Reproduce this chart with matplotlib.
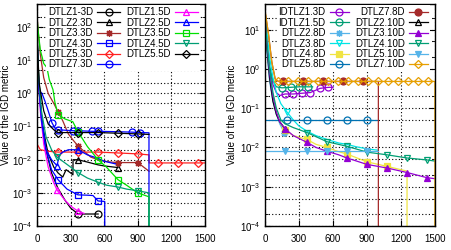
import matplotlib
matplotlib.use('Agg')
import matplotlib.pyplot as plt
from matplotlib.lines import Line2D
from matplotlib.ticker import LogLocator, NullFormatter, MultipleLocator

plt.rcParams['font.family'] = ['Liberation Sans', 'DejaVu Sans']
plt.rcParams['font.size'] = 7

# ---- left panel data (generation, IGD) ----
d13_x = [0, 15, 40, 80, 130, 186, 250, 300, 366, 450, 546]
d13_y = [60, 3, 0.2, 0.02, 4e-3, 1.4e-3, 6e-4, 3.5e-4, 2.3e-4, 2.3e-4, 2.3e-4]
d13_m = [366, 546]

d23_x = [0, 20, 50, 100, 150, 188, 230, 260, 300, 321, 322, 366, 450, 545, 600, 723]
d23_y = [80, 1, 0.1, 0.015, 6e-3, 4e-3, 3e-3, 5e-3, 4e-3, 3.5e-3, 0.01, 0.01, 8.5e-3, 7e-3, 6.5e-3, 5.8e-3]
d23_m = [366, 723]

d33_x = [0, 10, 30, 60, 100, 150, 188, 230, 280, 320, 366, 420, 480, 545, 600, 660, 723, 800, 900, 1000]
d33_y = [250, 80, 15, 3, 1, 0.5, 0.28, 0.15, 0.06, 0.04, 0.026, 0.018, 0.012, 0.01, 0.009, 0.0085,
         0.0082, 0.0082, 0.0082, 0.0045]
d33_m = [188, 366, 723, 900]

d43_x = [0, 15, 40, 80, 130, 188, 268, 366, 450, 500, 545, 605, 606]
d43_y = [60, 2, 0.2, 0.02, 5e-3, 2.5e-3, 1.3e-3, 8.7e-4, 8.5e-4, 8.3e-4, 5.7e-4, 5.5e-4, 0]
d43_m = [188, 366, 545]

d53_x = [0, 30, 100, 188, 366, 545, 723, 900, 1000, 1001, 1080, 1260, 1440, 1500]
d53_y = [0.03, 0.02, 0.018, 0.017, 0.017, 0.017, 0.016, 0.015, 0.014, 0.008, 0.008, 0.008, 0.008, 0.008]
d53_m = [188, 366, 545, 723, 900, 1080, 1260, 1440]

d73_x = [0, 20, 45, 70, 100, 134, 160, 188, 321, 366, 491, 545, 723, 848, 920, 1000, 1001]
d73_y = [3, 1.2, 1.0, 0.6, 0.3, 0.13, 0.09, 0.08, 0.075, 0.075, 0.072, 0.072, 0.07, 0.068, 0.066, 0.065, 0]
d73_m = [134, 188, 321, 366, 491, 545, 848, 920]

d15_x = [0, 10, 30, 60, 100, 150, 180, 250, 300, 366, 420]
d15_y = [100, 5, 0.3, 0.03, 6e-3, 2e-3, 1.2e-3, 6e-4, 4e-4, 2.8e-4, 2.4e-4]
d15_m = [180, 366]

d25_x = [0, 15, 40, 80, 130, 179, 200, 230, 280, 366, 450, 545, 600, 700]
d25_y = [50, 2, 0.15, 0.02, 0.01, 6.6e-3, 0.014, 0.017, 0.02, 0.02, 0.014, 0.011, 0.009, 0.0075]
d25_m = [179, 366]

d35_x = [0, 10, 30, 45, 60, 89, 110, 143, 160, 188, 250, 320, 366, 450, 545, 620, 723, 800, 900, 1000, 1001]
d35_y = [200, 80, 20, 13, 8, 6, 2.6, 1.3, 0.54, 0.23, 0.17, 0.14, 0.07, 0.025, 0.01, 0.006, 0.0025,
         0.0017, 0.001, 0.00076, 0]
d35_m = [188, 366, 545, 723, 900]

d45_x = [0, 1, 15, 40, 80, 130, 179, 250, 300, 366, 450, 545, 623, 723, 800, 900, 1000, 1001]
d45_y = [0, 100, 3, 0.3, 0.05, 0.02, 0.012, 0.008, 0.006, 0.0041, 0.0028, 0.0021, 0.0017, 0.0015,
         0.0013, 0.00115, 0.001, 0]
d45_m = [179, 366, 545, 723, 900]

d55_x = [0, 20, 60, 100, 150, 188, 366, 545, 723, 900, 1000]
d55_y = [50, 2, 0.3, 0.12, 0.08, 0.066, 0.066, 0.066, 0.063, 0.06, 0.058]
d55_m = [188, 366, 545, 723, 900]

# ---- right panel data ----
i13_x = [0, 15, 40, 70, 100, 130, 176, 250, 325, 400, 485, 560, 600]
i13_y = [30, 5, 1, 0.4, 0.25, 0.21, 0.23, 0.23, 0.24, 0.25, 0.32, 0.34, 0.34]
i13_m = [176, 250, 325, 400, 485, 560]

i15_x = [0, 15, 40, 70, 100, 150, 225, 300, 375, 420]
i15_y = [30, 5, 1.2, 0.5, 0.35, 0.33, 0.34, 0.35, 0.35, 0.35]
i15_m = [150, 225, 300, 375]

d28_x = [0, 15, 40, 70, 100, 130, 170, 200]
d28_y = [30, 3, 0.5, 0.15, 0.07, 0.04, 0.024, 0.022]
d28_m = [170]

d38_x = [0, 15, 40, 70, 100, 140, 194, 250, 300, 370, 450, 547, 650, 723, 800, 900, 1000]
d38_y = [30, 10, 2, 0.6, 0.25, 0.13, 0.08, 0.05, 0.035, 0.026, 0.02, 0.016, 0.013, 0.012, 0.0105,
         0.0092, 0.0085]
d38_m = [194]

d48_x = [0, 15, 40, 70, 100, 130, 176, 250, 370, 450, 547, 650, 723, 900, 1076, 1253, 1254]
d48_y = [30, 5, 0.8, 0.2, 0.08, 0.045, 0.028, 0.02, 0.016, 0.012, 0.01, 0.0078, 0.0068, 0.0043,
         0.0033, 0.0025, 0]
d48_m = [176, 370, 547, 723, 900, 1076]

d58_x = [0, 194, 370, 547, 723, 900, 1000]
d58_y = [0.049, 0.049, 0.049, 0.049, 0.049, 0.049, 0.049]
d58_m = [194, 370, 547, 723, 900]

d78_x = [0, 30, 60, 90, 118, 159, 335, 512, 688, 865, 1000, 1001]
d78_y = [30, 8, 1.5, 0.55, 0.48, 0.48, 0.48, 0.48, 0.48, 0.48, 0.48, 0]
d78_m = [159, 335, 512, 688, 865]

d210_x = [0, 15, 40, 70, 100, 130, 176, 200]
d210_y = [30, 4, 0.6, 0.15, 0.07, 0.045, 0.03, 0.028]
d210_m = [176]

d310_x = [0, 15, 40, 70, 100, 130, 176, 250, 370, 450, 547, 650, 723, 900, 1076, 1253, 1429, 1500]
d310_y = [30, 5, 0.8, 0.2, 0.08, 0.045, 0.03, 0.02, 0.0135, 0.01, 0.008, 0.0065, 0.0054, 0.0037,
          0.003, 0.0023, 0.0017, 0.0016]
d310_m = [176, 370, 547, 723, 900, 1076, 1253, 1429]

d410_x = [0, 15, 40, 70, 100, 140, 176, 250, 370, 547, 723, 900, 1076, 1253, 1429, 1500]
d410_y = [30, 5, 1, 0.25, 0.1, 0.05, 0.04, 0.032, 0.024, 0.014, 0.0107, 0.0076, 0.0065, 0.0054,
          0.0048, 0.0045]
d410_m = [370, 547, 723, 900, 1076, 1253, 1429]

d510_x = [0, 176, 370, 547, 723, 900, 1000]
d510_y = [0.008, 0.008, 0.008, 0.008, 0.008, 0.008, 0.008]
d510_m = [176, 370, 547, 723, 900]

d710_x = [0, 1, 30, 60, 90, 118, 206, 294, 382, 470, 558, 646, 734, 822, 910, 998, 1086, 1174,
          1262, 1350, 1438, 1499, 1500]
d710_y = [0, 30, 8, 1.5, 0.55, 0.48, 0.48, 0.48, 0.48, 0.48, 0.48, 0.48, 0.48, 0.48, 0.48, 0.48,
          0.48, 0.48, 0.48, 0.48, 0.48, 0.48, 0]
d710_m = [118, 206, 294, 382, 470, 558, 646, 734, 822, 910, 998, 1086, 1174, 1262, 1350, 1438]

ast = (8, 2, 0)

left_series = [
    ('DTLZ1-3D', d13_x, d13_y, d13_m, 'black', 'o', False),
    ('DTLZ2.3D', d23_x, d23_y, d23_m, 'black', '^', False),
    ('DTLZ3.3D', d33_x, d33_y, d33_m, '#a52a2a', ast, False),
    ('DTLZ4.3D', d43_x, d43_y, d43_m, '#0000ff', 's', False),
    ('DTLZ5.3D', d53_x, d53_y, d53_m, '#ff2020', 'D', False),
    ('DTLZ7.3D', d73_x, d73_y, d73_m, '#0000ff', 'o', False),
    ('DTLZ1.5D', d15_x, d15_y, d15_m, '#ff00ff', '^', False),
    ('DTLZ2.5D', d25_x, d25_y, d25_m, '#0000ff', '^', False),
    ('DTLZ3.5D', d35_x, d35_y, d35_m, '#00e000', 's', False),
    ('DTLZ4.5D', d45_x, d45_y, d45_m, '#009e73', 'v', False),
    ('DTLZ5.5D', d55_x, d55_y, d55_m, 'black', 'D', False),
]

right_series = [
    ('IDTLZ1.3D', i13_x, i13_y, i13_m, '#9400d3', 'o', False),
    ('IDTLZ1.5D', i15_x, i15_y, i15_m, '#009e73', 'o', False),
    ('DTLZ2.8D', d28_x, d28_y, d28_m, '#56b4e9', ast, False),
    ('DTLZ3.8D', d38_x, d38_y, d38_m, '#00e5e5', 'v', False),
    ('DTLZ4.8D', d48_x, d48_y, d48_m, '#f0e442', 's', True),
    ('DTLZ5.8D', d58_x, d58_y, d58_m, '#0072b2', 'o', False),
    ('DTLZ7.8D', d78_x, d78_y, d78_m, '#a52a2a', 'o', True),
    ('DTLZ2.10D', d210_x, d210_y, d210_m, 'black', '^', False),
    ('DTLZ3.10D', d310_x, d310_y, d310_m, '#9400d3', '^', True),
    ('DTLZ4.10D', d410_x, d410_y, d410_m, '#009e73', 'v', False),
    ('DTLZ5.10D', d510_x, d510_y, d510_m, '#56b4e9', 'v', True),
    ('DTLZ7.10D', d710_x, d710_y, d710_m, '#e69f00', 'D', False),
]


def style(ax, ylim):
    ax.set_yscale('log')
    ax.set_xlim(0, 1500)
    ax.set_ylim(*ylim)
    ax.xaxis.set_major_locator(MultipleLocator(300))
    ax.yaxis.set_major_locator(LogLocator(base=10, numticks=20))
    ax.yaxis.set_minor_locator(LogLocator(base=10, subs=(2, 5), numticks=20))
    ax.yaxis.set_minor_formatter(NullFormatter())
    ax.tick_params(which='both', direction='in', top=True, right=True, labelsize=7)
    ax.tick_params(axis='x', pad=6)
    ax.tick_params(axis='y', pad=3)
    ax.tick_params(which='major', length=4, width=0.8)
    ax.tick_params(which='minor', length=2, width=0.6)
    ax.grid(True, which='major', axis='x', color='black', linestyle=(0, (1, 2)), linewidth=0.8)
    ax.grid(True, which='both', axis='y', color='black', linestyle=(0, (1, 2)), linewidth=0.8)
    for s in ax.spines.values():
        s.set_linewidth(1.0)
    ax.set_ylabel('Value of the IGD metric', fontsize=7)


def draw(ax, series, hlen, anchor):
    handles = []
    for label, x, y, marks, color, marker, filled in series:
        idx = [i for i, v in enumerate(x) if v in marks]
        fc = color if filled else 'none'
        ms = 4 if marker == 'D' else 5
        ax.plot(x, y, color=color, lw=0.9, marker=marker, ms=ms, mfc=fc, mec=color,
                mew=0.9, markevery=idx)
        handles.append(Line2D([], [], color=color, lw=0.9, marker=marker, ms=ms, mfc=fc,
                              mec=color, mew=0.9, label=label))
    leg = ax.legend(handles=handles, ncol=2, markerfirst=False, loc='upper right',
                    bbox_to_anchor=anchor, fontsize=7, handlelength=hlen,
                    labelspacing=0.05, columnspacing=0.6, handletextpad=0.4,
                    borderpad=0.2, borderaxespad=0.0, frameon=True, fancybox=False,
                    facecolor='white', edgecolor='none', framealpha=1.0)
    leg.set_zorder(5)


fig = plt.figure(figsize=(4.51, 2.5), dpi=100)
ax1 = fig.add_axes([0.082, 0.096, 0.3725, 0.888])
ax2 = fig.add_axes([0.5876, 0.096, 0.377, 0.888])

draw(ax1, left_series, 2.4, (0.97, 0.995))
style(ax1, (1e-4, 500))
ax1.yaxis.set_label_coords(-0.155, 0.5)

draw(ax2, right_series, 2.0, (0.97, 0.995))
style(ax2, (1e-4, 45))
ax2.yaxis.set_label_coords(-0.165, 0.5)

fig.savefig('out.png', dpi=100)
